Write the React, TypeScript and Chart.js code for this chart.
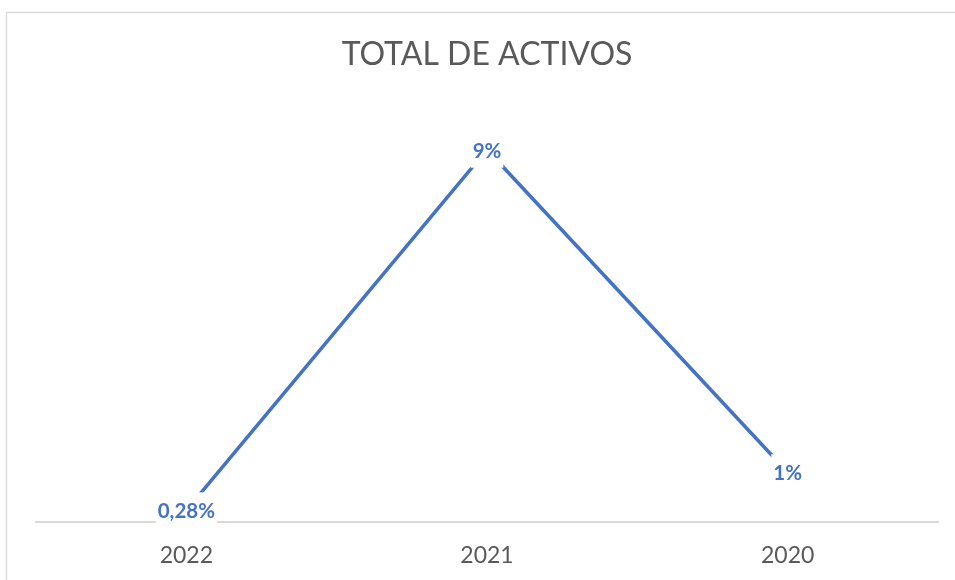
import React, { useEffect, useRef } from "react";
import { Chart, registerables } from "chart.js";

Chart.register(...registerables);

const categories = ["2022", "2021", "2020"];
const values = [0.28, 9.0, 1.2];
const valueLabels = ["0,28%", "9%", "1%"];
const titleText = "TOTAL DE ACTIVOS";
const yMin = 0;
const yMax = 10;

export default function App() {
  const ref = useRef<HTMLCanvasElement>(null);

  useEffect(() => {
    const canvas = ref.current!;

    const framePlugin = {
      id: "frame",
      beforeDraw(chart: any) {
        const ctx = chart.ctx;
        ctx.save();
        ctx.fillStyle = "#ffffff";
        ctx.fillRect(0, 0, chart.width, chart.height);
        ctx.strokeStyle = "#d9d9d9";
        ctx.lineWidth = 1.3;
        ctx.strokeRect(6.5, 12.5, 1000, 1000);
        ctx.restore();
      },
    };

    const labelPlugin = {
      id: "valueLabels",
      afterDatasetsDraw(chart: any) {
        const ctx = chart.ctx;
        const meta = chart.getDatasetMeta(0);
        ctx.save();
        ctx.font = "bold 20.5px Lato";
        ctx.textAlign = "center";
        ctx.textBaseline = "middle";
        meta.data.forEach((pt: any, i: number) => {
          const txt = valueLabels[i];
          const w = ctx.measureText(txt).width + 4;
          const h = 36;
          ctx.fillStyle = "#ffffff";
          ctx.fillRect(pt.x - w / 2, pt.y - h / 2, w, h);
          ctx.fillStyle = "#4472C4";
          ctx.fillText(txt, pt.x, pt.y + 1.5);
        });
        ctx.restore();
      },
    };

    const chart = new Chart(canvas, {
      type: "line",
      data: {
        labels: categories,
        datasets: [
          {
            data: values,
            borderColor: "#4472C4",
            borderWidth: 3.5,
            pointRadius: 0,
            tension: 0,
            fill: false,
          },
        ],
      },
      options: {
        responsive: false,
        animation: false,
        layout: { padding: { left: 36, right: 17, top: 0, bottom: -9.5 } },
        plugins: {
          legend: { display: false },
          tooltip: { enabled: false },
          title: {
            display: true,
            text: titleText,
            color: "#595959",
            font: { family: "Lato", size: 32, weight: "normal" },
            padding: { top: 35, bottom: 35 },
          },
        },
        scales: {
          x: {
            offset: true,
            grid: { display: false, drawTicks: false },
            border: { display: true, color: "#d9d9d9", width: 2 },
            ticks: {
              color: "#595959",
              font: { family: "Lato", size: 23 },
              padding: 20,
            },
          },
          y: { display: false, min: yMin, max: yMax },
        },
      },
      plugins: [framePlugin, labelPlugin],
    });
    return () => chart.destroy();
  }, []);

  return (
    <div style={{ position: "fixed", left: 0, top: 0, width: 955, height: 580 }}>
      <canvas ref={ref} width={955} height={580} style={{ display: "block" }} />
    </div>
  );
}
